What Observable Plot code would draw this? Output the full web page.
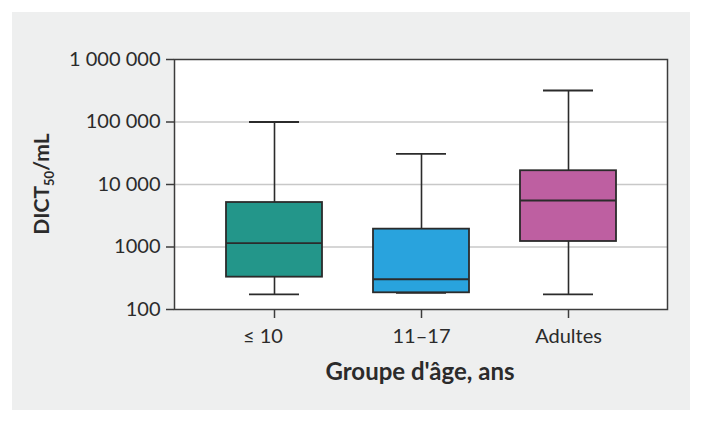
<!DOCTYPE html>
<html>
<head>
<meta charset="utf-8">
<script src="https://cdn.jsdelivr.net/npm/d3@7"></script>
<script src="https://cdn.jsdelivr.net/npm/@observablehq/plot@0.6"></script>
<style>
  html, body { margin: 0; padding: 0; background: #ffffff; }
  #wrap { position: relative; width: 703px; height: 423px; }
  #panel { position: absolute; left: 12px; top: 12px; width: 678px; height: 398px; background: #eeefef; }
  #chart { position: absolute; left: 0; top: 0; }
  #chart svg { background: transparent; display: block; }
</style>
</head>
<body>
<div id="wrap"><div id="panel"></div><div id="chart"></div></div>
<script>
const groups  = ["≤ 10", "11–17", "Adultes"];
const mins    = [174, 185, 174];
const q1s     = [329, 185, 1225];
const medians = [1150, 305, 5550];
const q3s     = [5150, 1930, 16600];
const maxs    = [100000, 31000, 319000];
const colors  = ["#23968a", "#29a3dd", "#be5fa1"];
const yTicks  = [100, 1000, 10000, 100000, 1000000];
const yTickLabels = ["100", "1000", "10 000", "100 000", "1 000 000"];
const gridTicks = [1000, 10000, 100000];
const yTitleMain = "DICT";
const yTitleSub = "50";
const yTitleTail = "/mL";
const xTitle = "Groupe d'âge, ans";

const data = groups.map((g, i) => ({
  group: g, min: mins[i], q1: q1s[i], median: medians[i], q3: q3s[i], max: maxs[i], color: colors[i]
}));

const FONT = "Lato, 'Open Sans', sans-serif";
const dark = "#2b2b2b";

const plot = Plot.plot({
  width: 703,
  height: 423,
  marginLeft: 174,
  marginRight: 36,
  marginTop: 59,
  marginBottom: 114,
  style: { fontFamily: FONT, fontSize: "20px", color: dark, background: "transparent" },
  x: { domain: groups, padding: 0.35, label: null },
  y: { type: "log", domain: [100, 1000000], label: null },
  marks: [
    Plot.frame({ fill: "white", stroke: "none" }),
    Plot.ruleY(gridTicks, { stroke: "#c8c8c8", strokeWidth: 1.5 }),
    Plot.ruleX(data, { x: "group", y1: "q3", y2: "max", stroke: dark, strokeWidth: 1.6 }),
    Plot.ruleX(data, { x: "group", y1: "min", y2: "q1", stroke: dark, strokeWidth: 1.6 }),
    Plot.tickY(data, { x: "group", y: "max", stroke: dark, strokeWidth: 1.8, insetLeft: 23, insetRight: 23 }),
    Plot.tickY(data, { x: "group", y: "min", stroke: dark, strokeWidth: 1.8, insetLeft: 23, insetRight: 23 }),
    Plot.barY(data, { x: "group", y1: "q1", y2: "q3", fill: d => d.color, stroke: dark, strokeWidth: 1.8 }),
    Plot.tickY(data, { x: "group", y: "median", stroke: dark, strokeWidth: 1.8 }),
    Plot.frame({ stroke: "#3c3c3c", strokeWidth: 1.5 }),
    Plot.axisY({
      ticks: yTicks,
      tickFormat: (d) => yTickLabels[yTicks.indexOf(d)],
      tickSize: 8, tickPadding: 6, stroke: "#3c3c3c", strokeWidth: 1.5, label: null, fontSize: 20
    }),
    Plot.axisX({
      tickSize: 9, tickPadding: 10, stroke: "#3c3c3c", strokeWidth: 1.5, label: null, fontSize: 20,
      tickFormat: (d) => d === groups[0] ? d + "\u2007\u2007" : d
    })
  ]
});

document.getElementById("chart").appendChild(plot);

const svg = d3.select(plot);
// Y axis title with subscript
const yt = svg.append("text")
  .attr("transform", "translate(49,184) rotate(-90)")
  .attr("text-anchor", "middle")
  .attr("font-family", FONT)
  .attr("font-weight", "bold")
  .attr("font-size", 21)
  .attr("fill", dark);
yt.append("tspan").text(yTitleMain);
yt.append("tspan").attr("font-size", 13).attr("dy", 5).text(yTitleSub);
yt.append("tspan").attr("dy", -5).text(yTitleTail);

// X axis title
svg.append("text")
  .attr("x", 420).attr("y", 380)
  .attr("text-anchor", "middle")
  .attr("font-family", FONT)
  .attr("font-weight", "bold")
  .attr("font-size", 24)
  .attr("fill", dark)
  .text(xTitle);
</script>
</body>
</html>
